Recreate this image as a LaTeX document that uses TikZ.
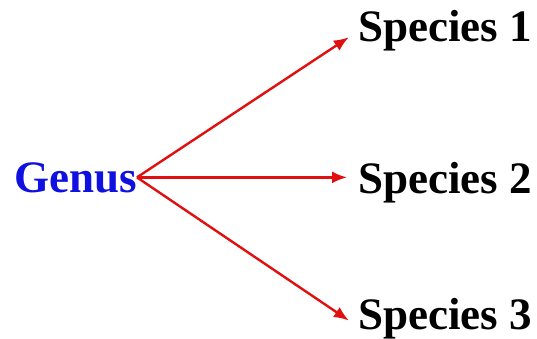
\documentclass[tikz,border=0pt]{standalone}
\usepackage{fontspec}
\setmainfont{Liberation Serif}
\usetikzlibrary{arrows.meta,positioning}
\definecolor{genusBlue}{HTML}{1010E0}
\definecolor{arrowRed}{HTML}{E01010}

\begin{document}
\begin{tikzpicture}[
      x=1pt, y=-1pt,
      lbl/.style={inner sep=0pt, anchor=base west,
                  font=\fontsize{45}{50}\selectfont\bfseries},
      link/.style={draw=arrowRed, line width=2.4pt, shorten >=11pt,
                   -{Latex[length=15pt,width=12pt]}}
    ]
    \useasboundingbox (0,0) rectangle (537,339);
    \node[lbl, text=genusBlue] (genus) at (14,192) {Genus};
    \node[lbl] (sp1) at (358,42) {Species 1};
    \node[lbl] (sp2) at (358,193) {Species 2};
    \node[lbl] (sp3) at (358,329) {Species 3};

    \draw[link] (genus.east) -- (sp1.west);
    \draw[link] (genus.east) -- (genus.east -| sp2.west);
    \draw[link] (genus.east) -- (sp3.mid west);
  \end{tikzpicture}
\end{document}
